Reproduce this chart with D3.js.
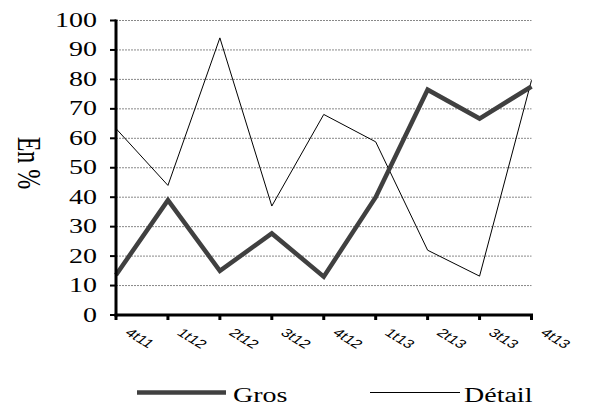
<!DOCTYPE html>
<html><head><meta charset="utf-8">
<script src="https://cdn.jsdelivr.net/npm/d3@7"></script>
<style>body{margin:0;background:#fff}svg{display:block}</style>
</head><body>
<svg id="c" width="589" height="408"></svg>
<script>
const categories = ["4t11","1t12","2t12","3t12","4t12","1t13","2t13","3t13","4t13"];
const gros   = [13.6, 39, 15, 27.7, 13, 40, 76.5, 66.7, 77.6];
const detail = [63.3, 44, 94.1, 37, 68.1, 58.8, 22, 13.2, 79.7];
const yTicks = [0,10,20,30,40,50,60,70,80,90,100];
const seriesNames = ["Gros","Détail"];

const SX = 1.4; // horizontal stretch of the original picture
const svg = d3.select("#c");
const x = d3.scalePoint().domain(categories).range([116, 531.5]);
const y = d3.scaleLinear().domain([0,100]).range([315, 20.5]);

// gridlines
svg.append("g").selectAll("line").data(yTicks.filter(d=>d>0)).join("line")
  .attr("x1",116).attr("x2",531.5)
  .attr("y1",d=>y(d)).attr("y2",d=>y(d))
  .attr("stroke","#888").attr("stroke-width",1).attr("stroke-dasharray","2,1");

// lines
const line = d3.line().x((d,i)=>x(categories[i])).y(d=>y(d));
svg.append("path").datum(detail).attr("d",line).attr("fill","none")
  .attr("stroke","#000").attr("stroke-width",1);
svg.append("path").datum(gros).attr("d",line).attr("fill","none")
  .attr("stroke","#404040").attr("stroke-width",4.5).attr("stroke-linejoin","miter");

// axes
svg.append("line").attr("x1",116).attr("x2",116).attr("y1",y(100)-1).attr("y2",y(0)+1.5)
  .attr("stroke","#000").attr("stroke-width",3);
svg.append("line").attr("x1",114.5).attr("x2",533).attr("y1",y(0)).attr("y2",y(0))
  .attr("stroke","#000").attr("stroke-width",3);
svg.append("g").selectAll("line").data(yTicks).join("line")
  .attr("x1",110).attr("x2",116).attr("y1",d=>y(d)).attr("y2",d=>y(d))
  .attr("stroke","#000").attr("stroke-width",2);
svg.append("g").selectAll("line").data(categories).join("line")
  .attr("x1",d=>x(d)).attr("x2",d=>x(d)).attr("y1",y(0)).attr("y2",y(0)+5)
  .attr("stroke","#000").attr("stroke-width",3);

// y tick labels
svg.append("g").selectAll("text").data(yTicks).join("text")
  .attr("transform",d=>`translate(97,${y(d)+6.5}) scale(${SX},1)`)
  .attr("text-anchor","end")
  .attr("font-family","Liberation Serif, Times New Roman, serif")
  .attr("font-size",20).text(d=>d);

// x tick labels
svg.append("g").selectAll("text").data(categories).join("text")
  .attr("transform",d=>`translate(${x(d)+8},${334}) scale(${SX},1) rotate(40)`)
  .attr("text-anchor","start")
  .attr("font-family","Liberation Sans, Arial, sans-serif")
  .attr("font-size",12).text(d=>d);

// y axis title
svg.append("text")
  .attr("transform",`translate(18,163) scale(${SX},1) rotate(90)`)
  .attr("text-anchor","middle")
  .attr("font-family","Liberation Serif, Times New Roman, serif")
  .attr("font-size",24).text("En %");

// legend
const leg = [{x1:137,x2:226,tx:233,w:4.5,c:"#404040"},{x1:370,x2:460,tx:464,w:1,c:"#000"}];
const lg = svg.append("g");
lg.selectAll("line").data(leg).join("line")
  .attr("x1",d=>d.x1).attr("x2",d=>d.x2).attr("y1",392.5).attr("y2",392.5)
  .attr("stroke",d=>d.c).attr("stroke-width",d=>d.w);
lg.selectAll("text").data(leg).join("text")
  .attr("transform",d=>`translate(${d.tx},402) scale(${SX},1)`)
  .attr("font-family","Liberation Serif, Times New Roman, serif")
  .attr("font-size",20).text((d,i)=>seriesNames[i]);
</script>
</body></html>
